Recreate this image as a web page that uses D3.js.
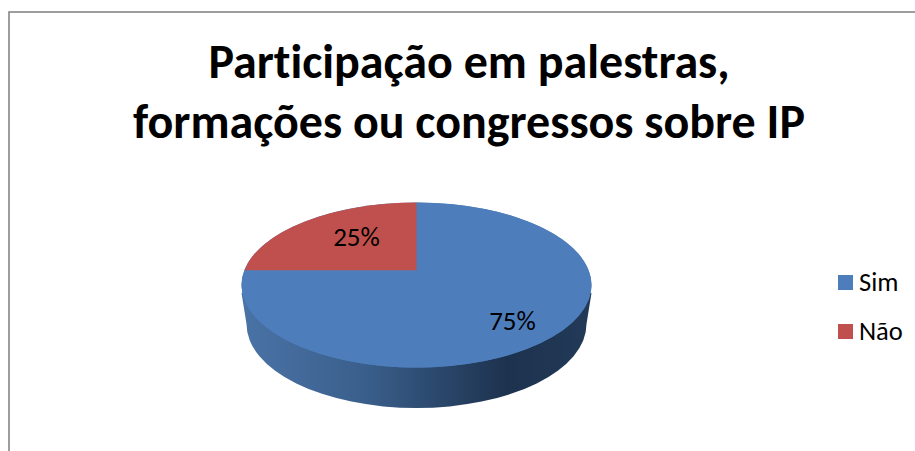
<!DOCTYPE html>
<html>
<head>
<meta charset="utf-8">
<script src="https://cdnjs.cloudflare.com/ajax/libs/d3/7.8.5/d3.min.js"></script>
<style>
html, body { margin: 0; padding: 0; background: #fff; overflow: hidden; }
text { font-family: Carlito, "Open Sans", "Noto Sans", sans-serif; fill: #000; font-variant-ligatures: none; }
</style>
</head>
<body>
<div id="chart"></div>
<script>
var categories = ["Sim", "Não"];
var values = [75, 25];
var colors = ["#4d7ebb", "#c0504d"];
var titleLines = ["Participação em palestras,", "formações ou congressos sobre IP"];

var svg = d3.select("#chart").append("svg").attr("width", 915).attr("height", 451);

svg.append("rect").attr("x", 9).attr("y", 12).attr("width", 1000).attr("height", 600)
    .attr("fill", "#fff").attr("stroke", "#868686").attr("stroke-width", 1.6);

svg.selectAll("text.title").data(titleLines).enter().append("text")
    .attr("class", "title")
    .attr("x", 469).attr("y", (d, i) => 78 + i * 60)
    .attr("text-anchor", "middle")
    .style("font-size", "48px").style("font-weight", "bold")
    .text(d => d);

// top face is tilted, so the apex sits above the middle of the ellipse
var cx = 416.5, cy = 285, rx = 175, ry = 82.5, tilt = -0.18;
var bottomRx = 170, bottomCy = 324, bottomRy = 84;

var defs = svg.append("defs");
var grad = defs.append("linearGradient").attr("id", "side").attr("x1", 0).attr("x2", 1).attr("y1", 0).attr("y2", 0);
grad.append("stop").attr("offset", "0%").attr("stop-color", "#4a73a6");
grad.append("stop").attr("offset", "35%").attr("stop-color", "#3a5f8c");
grad.append("stop").attr("offset", "76%").attr("stop-color", "#1d324e");
grad.append("stop").attr("offset", "100%").attr("stop-color", "#223a58");

var pie = d3.pie().sort(null).startAngle(0).endAngle(Math.PI * 2);
var slices = pie(values);

var sx = d3.scaleLinear().domain([-1, 1]).range([cx - rx, cx + rx]);
var sy = d3.scaleLinear().domain([-1, 1]).range([cy - ry, cy + ry]);

function pt(a) {
    var u = Math.sin(a), v = -Math.cos(a);
    var w = 1 + tilt * v;
    return [sx(u * Math.sqrt(1 - tilt * tilt) / w), sy((v + tilt) / w)];
}

function wedge(s) {
    var a = pt(s.startAngle), b = pt(s.endAngle);
    var apex = [sx(0), sy(tilt)];
    var large = s.endAngle - s.startAngle > Math.PI ? 1 : 0;
    return "M" + apex + "L" + a + "A" + rx + "," + ry + " 0 " + large + " 1 " + b + "Z";
}

// side wall of the disc, only the front part shows
svg.append("path")
    .attr("d", "M" + (cx + rx) + "," + (cy + 8) +
        "L" + (cx + bottomRx) + "," + bottomCy +
        "A" + bottomRx + "," + bottomRy + " 0 0 1 " + (cx - bottomRx) + "," + bottomCy +
        "L" + (cx - rx) + "," + (cy + 8) + "Z")
    .attr("fill", "url(#side)");

// blue ellipse under the slices so the 75% arc is closed properly
svg.append("ellipse").attr("cx", cx).attr("cy", cy).attr("rx", rx).attr("ry", ry).attr("fill", colors[0]);

svg.selectAll("path.slice").data(slices).enter().append("path")
    .attr("class", "slice")
    .attr("d", wedge)
    .attr("fill", (d, i) => colors[i]);

var labelPos = [[512.5, 321], [356.5, 237]];
svg.selectAll("text.pct").data(slices).enter().append("text")
    .attr("class", "pct")
    .attr("x", (d, i) => labelPos[i][0]).attr("y", (d, i) => labelPos[i][1] + 9)
    .attr("text-anchor", "middle")
    .style("font-size", "27px")
    .text(d => d.data + "%");

var legendY = d3.scalePoint().domain(categories).range([282, 331]);
categories.forEach(function (c, i) {
    svg.append("rect").attr("x", 838).attr("y", legendY(c) - 7).attr("width", 15).attr("height", 15).attr("fill", colors[i]);
    svg.append("text").attr("x", 859).attr("y", legendY(c) + 9).style("font-size", "26.5px").text(c);
});
</script>
</body>
</html>
